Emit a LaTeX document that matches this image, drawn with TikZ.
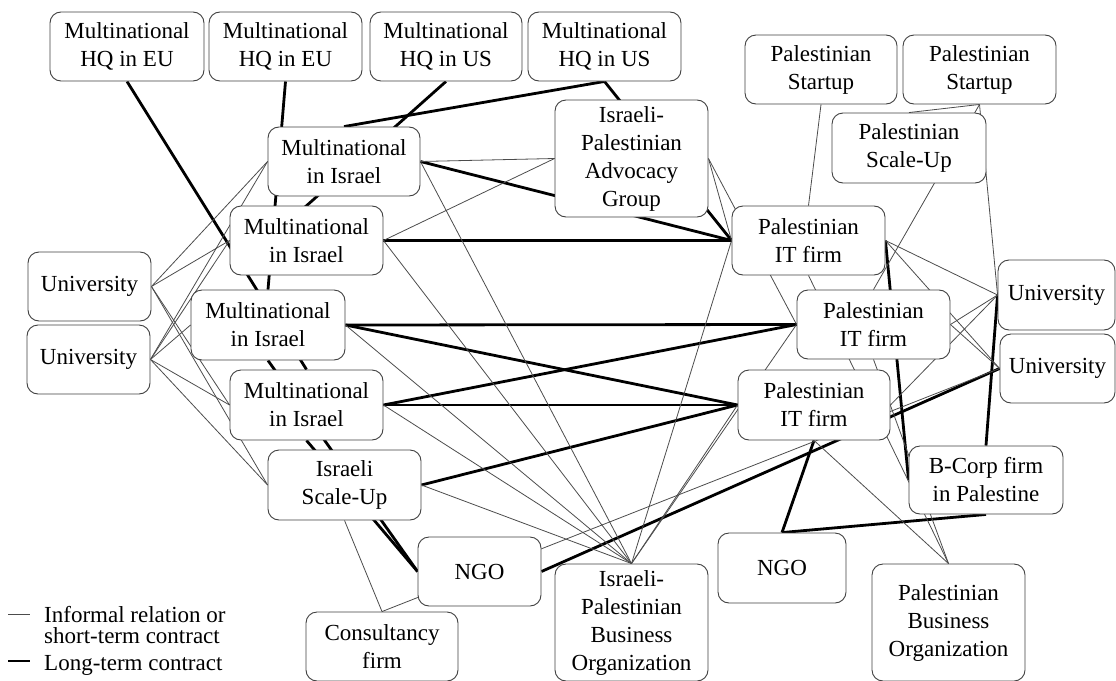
\documentclass[tikz,border=0pt]{standalone}
\usepackage{fontspec}
\setmainfont{Liberation Serif}
\usetikzlibrary{backgrounds,calc}
\tikzset{
  box/.style={draw=black!75, line width=0.9pt, rounded corners=11pt, fill=white,
    align=center, inner sep=0pt, font=\fontsize{23}{28}\selectfont},
  informal/.style={draw=black!70, line width=0.8pt},
  longterm/.style={draw=black, line width=2.8pt},
  legendtext/.style={anchor=base west, inner sep=0pt, font=\fontsize{23}{28}\selectfont},
}
\begin{document}
\begin{tikzpicture}[x=1pt,y=-1pt]
\useasboundingbox (0,0) rectangle (1116,680);

% ---------- organisations ----------
\node[box, minimum width=154pt, minimum height=69pt] (hqeu1) at (127,46.5) {Multinational\\HQ in EU};
\node[box, minimum width=153pt, minimum height=69pt] (hqeu2) at (285.5,46.5) {Multinational\\HQ in EU};
\node[box, minimum width=152pt, minimum height=69pt] (hqus1) at (446,46.5) {Multinational\\HQ in US};
\node[box, minimum width=153pt, minimum height=69pt] (hqus2) at (604.5,46.5) {Multinational\\HQ in US};
\node[box, minimum width=152pt, minimum height=69pt] (ps1) at (821,69.5) {Palestinian\\Startup};
\node[box, minimum width=153pt, minimum height=69pt] (ps2) at (979.5,69.5) {Palestinian\\Startup};
\node[box, minimum width=154pt, minimum height=70pt] (psu) at (909,148) {Palestinian\\Scale-Up};
\node[box, minimum width=152pt, minimum height=69pt] (mni1) at (344,161.5) {Multinational\\in Israel};
\node[box, minimum width=153pt, minimum height=117pt] (adv) at (631.5,158.5) {Israeli-\\Palestinian\\Advocacy\\Group};
\node[box, minimum width=153pt, minimum height=69pt] (mni2) at (306.5,240.5) {Multinational\\in Israel};
\node[box, minimum width=153pt, minimum height=69pt] (pit1) at (808.5,240.5) {Palestinian\\IT firm};
\node[box, minimum width=123pt, minimum height=69pt] (unil1) at (89.5,286.5) {University};
\node[box, minimum width=123pt, minimum height=69pt] (unil2) at (88.5,359.5) {University};
\node[box, minimum width=154pt, minimum height=70pt] (mni3) at (268,325) {Multinational\\in Israel};
\node[box, minimum width=153pt, minimum height=69pt] (pit2) at (873.5,324.5) {Palestinian\\IT firm};
\node[box, minimum width=117pt, minimum height=70pt] (unir1) at (1056.5,295) {University};
\node[box, minimum width=115pt, minimum height=69pt] (unir2) at (1057.5,368.5) {University};
\node[box, minimum width=153pt, minimum height=70pt] (mni4) at (306.5,405) {Multinational\\in Israel};
\node[box, minimum width=152pt, minimum height=70pt] (pit3) at (814,405) {Palestinian\\IT firm};
\node[box, minimum width=153pt, minimum height=70pt] (isu) at (344.5,485) {Israeli\\Scale-Up};
\node[box, minimum width=154pt, minimum height=68pt] (bcorp) at (986,480) {B-Corp firm\\in Palestine};
\node[box, minimum width=123pt, minimum height=69pt] (ngol) at (479.5,571.5) {NGO};
\node[box, minimum width=128pt, minimum height=70pt] (ngor) at (782,568) {NGO};
\node[box, minimum width=152pt, minimum height=69pt] (cons) at (382,646.5) {Consultancy\\firm};
\node[box, minimum width=153pt, minimum height=117pt] (ipb) at (631.5,622.5) {Israeli-\\Palestinian\\Business\\Organization};
\node[box, minimum width=153pt, minimum height=117pt] (pbo) at (948.5,622.5) {Palestinian\\Business\\Organization};

% ---------- relations, drawn behind the boxes ----------
\begin{pgfonlayer}{background}
  % long-term contracts
  \draw[longterm] (hqeu1.south) -- (mni4.north);
  \draw[longterm] (hqeu2.south) -- (mni3.north);
  \draw[longterm] (hqus1.south) -- ($(mni2.center)+(-39,0)$);
  \draw[longterm] (hqus2.south) -- (mni1.north);
  \draw[longterm] (hqus2.south) -- (pit1.west);
  \draw[longterm] (mni1.east) -- (pit1.west);
  \draw[longterm] (mni2.east) -- (pit1.west);
  \draw[longterm] (mni3.east) -- (pit2.west);
  \draw[longterm] (mni3.east) -- (pit3.west);
  \draw[longterm] (mni4.east) -- (pit2.west);
  \draw[longterm] (mni4.east) -- (pit3.west);
  \draw[longterm] (isu.east) -- (pit3.west);
  \draw[longterm] (mni3.south) -- (ngol.west);
  \draw[longterm] (mni4.south) -- (ngol.west);
  \draw[longterm] (ngol.east) -- (unir2.west);
  \draw[longterm] (pit1.east) -- (bcorp.west);
  \draw[longterm] (unir1.west) -- (bcorp.north);
  \draw[longterm] (pit3.south) -- (ngor.north);
  \draw[longterm] (ngor.north) -- (bcorp.south);

  % informal relations or short-term contracts
  \draw[informal] (mni1.east) -- (adv.west);
  \draw[informal] (mni2.east) -- (adv.west);
  \draw[informal] (mni1.east) -- (ipb.north);
  \draw[informal] (mni2.east) -- (ipb.north);
  \draw[informal] (mni3.east) -- (ipb.north);
  \draw[informal] (mni4.east) -- (ipb.north);
  \draw[informal] (isu.east) -- (ipb.north);
  \draw[informal] (isu.south) -- (cons.north);
  \draw[informal] (cons.north) -- (unir2.west);
  \foreach \m in {mni1,mni2,mni4,isu} \draw[informal] (unil1.east) -- (\m.west);
  \foreach \m in {mni1,mni2,mni3,mni4,isu} \draw[informal] (unil2.east) -- (\m.west);
  \draw[informal] (adv.east) -- (pit1.west);
  \draw[informal] (adv.east) -- (pit2.west);
  \draw[informal] (ipb.north) -- (pit1.west);
  \draw[informal] (ipb.north) -- (pit2.west);
  \draw[informal] (ipb.north) -- (pit3.west);
  \draw[informal] (ps1.south) -- (pit1.north);
  \draw[informal] (ps2.south) -- (psu.north);
  \draw[informal] (ps2.south) -- (pit2.north);
  \draw[informal] (ps2.south) -- (unir1.west);
  \foreach \p in {pit1,pit2} {
    \draw[informal] (\p.east) -- (unir1.west);
    \draw[informal] (\p.east) -- (unir2.west);
  }
  \draw[informal] (pit3.east) -- (unir1.west);
  \foreach \p in {pit1,pit2,pit3} \draw[informal] (\p.south) -- (pbo.north);
\end{pgfonlayer}

% ---------- legend ----------
\draw[informal] (8,614) -- (30,614);
\draw[longterm] (8,661) -- (30,661);
\node[legendtext] (leg1) at (44,622) {Informal relation or};
\node[legendtext] (leg2) at (44,643) {short-term contract};
\node[legendtext] (leg3) at (44,670) {Long-term contract};
\end{tikzpicture}
\end{document}
